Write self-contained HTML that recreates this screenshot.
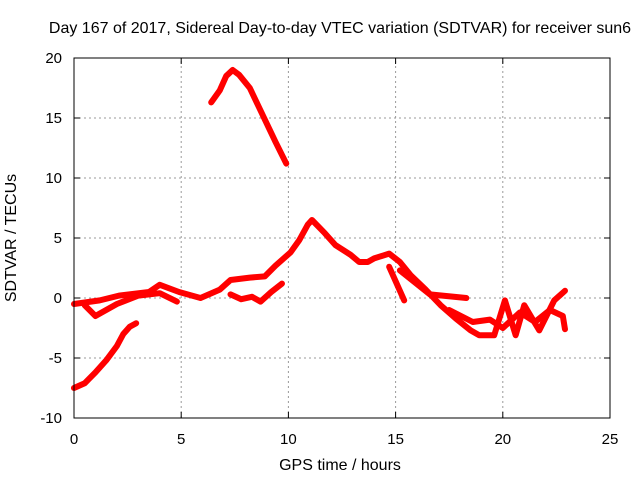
<!DOCTYPE html>
<html><head><meta charset="utf-8"><style>
body{margin:0;background:#fff;}
svg{display:block;font-family:"Liberation Sans",sans-serif;}
</style></head><body>
<svg id="c" width="640" height="480">
<text x="340" y="33" font-size="16" text-anchor="middle">Day 167 of 2017, Sidereal Day-to-day VTEC variation (SDTVAR) for receiver sun6</text>
<text x="340" y="470" font-size="16" text-anchor="middle">GPS time / hours</text>
<text transform="translate(16,238) rotate(-90)" font-size="16" text-anchor="middle">SDTVAR / TECUs</text>
<g id="grid"></g><g id="series"></g><g id="axes"></g>
</svg>
<script>
const xTicks=[0,5,10,15,20,25];
const yTicks=[-10,-5,0,5,10,15,20];
const arcX=[6.4,6.8,7.1,7.4,7.7,8.2,8.6,9.0,9.4,9.9];
const arcY=[16.3,17.3,18.5,19.0,18.6,17.5,16.0,14.5,13.0,11.2];
const riseX=[0,0.5,1,1.5,2,2.3,2.6,2.9];
const riseY=[-7.5,-7.1,-6.2,-5.2,-4.0,-3.0,-2.4,-2.1];
const mainX=[0,1.2,2.1,3.5,4.0,4.9,5.9,6.8,7.3,8.2,8.9,9.4,10.1,10.5,10.9,11.1,11.7,12.2,12.9,13.3,13.7,14.0,14.7,15.2,15.7,16.4,17.1,17.8,18.5,18.9,19.6,20.1,20.6,21.0,21.7,22.4,22.9];
const mainY=[-0.5,-0.2,0.2,0.5,1.1,0.5,0,0.7,1.5,1.7,1.8,2.7,3.8,4.8,6.1,6.5,5.4,4.4,3.6,3.0,3.0,3.3,3.7,3.0,1.9,0.7,-0.6,-1.7,-2.7,-3.1,-3.1,-0.2,-3.1,-0.6,-2.7,-0.2,0.6];
const lowX=[0.5,1,2,3,4,4.8];
const lowY=[-0.6,-1.5,-0.5,0.2,0.4,-0.3];
const midX=[7.3,7.8,8.3,8.7,9.2,9.7];
const midY=[0.3,-0.1,0.1,-0.3,0.5,1.2];
const split1X=[14.7,15.4];
const split1Y=[2.6,-0.2];
const split2X=[15.2,16.6,18.3];
const split2Y=[2.3,0.3,0];
const lateX=[17.5,18.6,19.4,20.0,20.8,21.5,22.2,22.8,22.9];
const lateY=[-1.0,-2.0,-1.8,-2.5,-1.2,-2.0,-1.0,-1.5,-2.6];
const NS='http://www.w3.org/2000/svg';
const X0=74,X1=610,Y0=418,Y1=58;
const sx=v=>X0+(v-0)/(25-0)*(X1-X0);
const sy=v=>Y0-(v+10)/30*(Y0-Y1);
function mk(t,a,p){const e=document.createElementNS(NS,t);for(const k in a)e.setAttribute(k,a[k]);p.appendChild(e);return e;}
const grid=document.getElementById('grid'),axes=document.getElementById('axes'),ser=document.getElementById('series');
xTicks.forEach(t=>{
 if(t>0&&t<25){const l=mk('line',{x1:sx(t),x2:sx(t),y1:Y0,y2:Y1,stroke:'#999','stroke-dasharray':'2,3'},grid);
 
 }
 const tx=mk('text',{x:sx(t),y:Y0+26,'font-size':15,'text-anchor':'middle'},axes);tx.textContent=t;
 
 
 mk('line',{x1:sx(t),x2:sx(t),y1:Y0,y2:Y0-6,stroke:'#000'},axes);
 mk('line',{x1:sx(t),x2:sx(t),y1:Y1,y2:Y1+6,stroke:'#000'},axes);
});
yTicks.forEach(t=>{
 if(t>-10&&t<20){const l=mk('line',{x1:X0,x2:X1,y1:sy(t),y2:sy(t),stroke:'#999','stroke-dasharray':'2,3'},grid);
 
 }
 const tx=mk('text',{x:X0-12,y:sy(t)+5,'font-size':15,'text-anchor':'end'},axes);tx.textContent=t;
 
 
 mk('line',{x1:X0,x2:X0+6,y1:sy(t),y2:sy(t),stroke:'#000'},axes);
 mk('line',{x1:X1,x2:X1-6,y1:sy(t),y2:sy(t),stroke:'#000'},axes);
});
const fr=mk('rect',{x:X0,y:Y1,width:X1-X0,height:Y0-Y1,fill:'none',stroke:'#000'},axes);


[[arcX,arcY,'arc-series'],[riseX,riseY,'rise-series'],[mainX,mainY,'main-series'],[lowX,lowY,'low-series'],[midX,midY,'mid-series'],[split1X,split1Y,'split-series-1'],[split2X,split2Y,'split-series-2'],[lateX,lateY,'late-series']].forEach(([xs,ys,n])=>{
 const p=mk('polyline',{points:xs.map((x,i)=>sx(x)+','+sy(ys[i])).join(' '),fill:'none',stroke:'#f00','stroke-width':6,'stroke-linejoin':'round','stroke-linecap':'round'},ser);
 
 
});
</script>
</body></html>
